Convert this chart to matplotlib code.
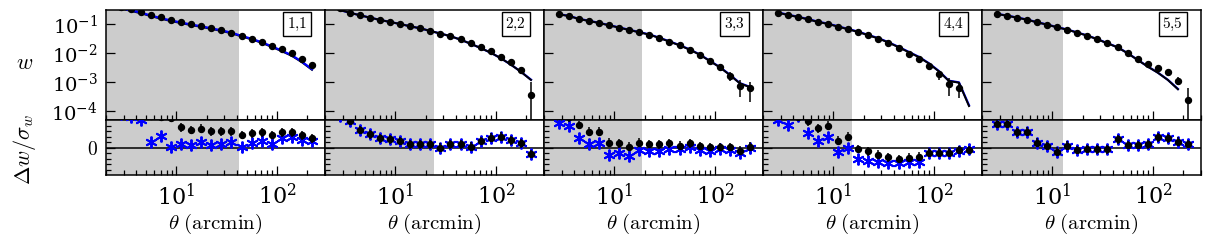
import numpy as np
import matplotlib
matplotlib.use("Agg")
import matplotlib.pyplot as plt
from matplotlib.ticker import FixedLocator, NullFormatter, LogLocator

plt.rcParams['mathtext.fontset'] = 'cm'
plt.rcParams['font.family'] = 'serif'
plt.rcParams['font.serif'] = ['DejaVu Serif']

# ---- data -------------------------------------------------------------
theta = 2.5 * 10 ** (0.05 + 0.1 * np.arange(20))   # bin centres (arcmin)
panel_labels = ["1,1", "2,2", "3,3", "4,4", "5,5"]
scale_cut = [41.6, 24.0, 18.8, 15.5, 12.9]          # shaded small-scale cut (arcmin)

# log10 w of measured points
logw_data = [
    [-0.40, -0.48, -0.575, -0.690, -0.769, -0.862, -0.931, -1.000, -1.069, -1.138,
     -1.207, -1.299, -1.414, -1.506, -1.621, -1.747, -1.874, -2.011, -2.195, -2.414],
    [-0.45, -0.609, -0.701, -0.782, -0.862, -0.931, -1.000, -1.080, -1.149, -1.241,
     -1.333, -1.414, -1.529, -1.667, -1.805, -1.943, -2.126, -2.322, -2.586, -3.448],
    [-0.667, -0.724, -0.828, -0.897, -0.966, -1.046, -1.126, -1.207, -1.287, -1.368,
     -1.483, -1.609, -1.736, -1.885, -2.057, -2.276, -2.494, -2.782, -3.138, -3.218],
    [-0.632, -0.701, -0.759, -0.839, -0.931, -1.000, -1.092, -1.184, -1.276, -1.391,
     -1.517, -1.667, -1.839, -2.023, -2.218, -2.437, -2.736, -3.080, -3.218, np.nan],
    [-0.655, -0.713, -0.782, -0.851, -0.943, -1.023, -1.115, -1.195, -1.299, -1.402,
     -1.529, -1.667, -1.805, -1.989, -2.195, -2.379, -2.506, -2.667, -2.954, -3.621],
]
# fractional errors sigma_w / w
frac_err = [
    [0.03, 0.03, 0.03, 0.03, 0.03, 0.03, 0.03, 0.03, 0.03, 0.03,
     0.04, 0.04, 0.04, 0.05, 0.05, 0.06, 0.07, 0.08, 0.10, 0.15],
    [0.03, 0.03, 0.03, 0.03, 0.03, 0.03, 0.03, 0.03, 0.03, 0.04,
     0.04, 0.04, 0.05, 0.05, 0.06, 0.07, 0.08, 0.10, 0.12, 1.86],
    [0.03, 0.03, 0.03, 0.03, 0.03, 0.03, 0.04, 0.04, 0.04, 0.05,
     0.05, 0.06, 0.07, 0.08, 0.10, 0.13, 0.20, 0.35, 0.58, 0.65],
    [0.03, 0.03, 0.03, 0.03, 0.03, 0.03, 0.04, 0.04, 0.04, 0.05,
     0.06, 0.07, 0.08, 0.10, 0.12, 0.20, 0.35, 0.60, 0.52, 0.0],
    [0.03, 0.03, 0.03, 0.03, 0.03, 0.03, 0.04, 0.04, 0.04, 0.05,
     0.05, 0.06, 0.07, 0.08, 0.10, 0.12, 0.15, 0.20, 0.30, 1.53],
]
# log10 w of model (black) and alternative model (blue)
logw_model = [
    [-0.46, -0.55, -0.63, -0.73, -0.82, -0.90, -0.97, -1.04, -1.10, -1.17,
     -1.24, -1.32, -1.43, -1.53, -1.65, -1.79, -1.94, -2.10, -2.32, -2.58],
    [-0.52, -0.61, -0.70, -0.78, -0.86, -0.93, -1.00, -1.08, -1.15, -1.24,
     -1.33, -1.42, -1.54, -1.68, -1.83, -1.99, -2.18, -2.40, -2.65, -2.93],
    [-0.667, -0.724, -0.828, -0.897, -0.966, -1.046, -1.126, -1.207, -1.287, -1.368,
     -1.483, -1.609, -1.736, -1.885, -2.057, -2.276, -2.494, -2.760, -3.05, -3.18],
    [-0.61, -0.69, -0.759, -0.839, -0.931, -1.000, -1.092, -1.184, -1.276, -1.391,
     -1.50, -1.64, -1.80, -1.97, -2.14, -2.36, -2.63, -2.966, -3.023, -3.83],
    [-0.655, -0.713, -0.782, -0.851, -0.943, -1.023, -1.115, -1.195, -1.299, -1.402,
     -1.529, -1.667, -1.805, -2.01, -2.24, -2.47, -2.68, -2.93, -3.25, np.nan],
]
logw_alt = [
    [-0.44, -0.53, -0.61, -0.71, -0.80, -0.88, -0.95, -1.02, -1.08, -1.15,
     -1.22, -1.30, -1.41, -1.51, -1.63, -1.77, -1.92, -2.08, -2.30, -2.56],
    [-0.52, -0.61, -0.70, -0.78, -0.86, -0.93, -1.00, -1.08, -1.15, -1.24,
     -1.33, -1.42, -1.54, -1.68, -1.83, -1.99, -2.18, -2.40, -2.645, -2.92],
    [-0.660, -0.720, -0.822, -0.890, -0.960, -1.040, -1.120, -1.200, -1.280, -1.360,
     -1.475, -1.600, -1.728, -1.877, -2.050, -2.268, -2.486, -2.750, -3.04, -3.17],
    [-0.60, -0.68, -0.750, -0.830, -0.922, -0.990, -1.082, -1.174, -1.266, -1.380,
     -1.49, -1.63, -1.79, -1.96, -2.13, -2.35, -2.62, -2.955, -3.013, -3.80],
    [-0.650, -0.708, -0.777, -0.846, -0.938, -1.018, -1.110, -1.190, -1.294, -1.397,
     -1.524, -1.662, -1.800, -2.005, -2.235, -2.465, -2.675, -2.925, -3.24, np.nan],
]
# residuals Delta w / sigma_w : black (model) and blue (alternative)
res_model = [
    [6.5, 6.3, 6.0, 5.8, 5.6, 5.4, 3.7, 3.2, 3.4, 2.97,
     2.97, 2.97, 2.3, 2.6, 2.8, 2.3, 2.8, 2.8, 2.2, 1.7],
    [5.8, 4.9, 3.2, 2.4, 1.7, 1.5, 1.2, 0.6, 0.6, 0.6,
     0.0, 0.6, 0.6, 0.2, 1.2, 1.8, 2.0, 1.3, 0.8, -1.15],
    [5.8, 5.5, 4.1, 2.9, 2.9, 0.9, 0.8, 0.2, 0.9, 0.67,
     0.6, 0.8, 0.37, 0.8, 0.3, 0.12, 0.12, 0.12, -0.55, 0.2],
    [6.0, 5.8, 5.6, 4.73, 3.52, 4.0, 1.27, 2.0, -0.24, -0.67,
     -1.27, -1.76, -2.06, -1.82, -1.64, -0.91, -0.91, -0.91, -0.42, -0.42],
    [4.3, 4.3, 2.8, 2.9, 0.9, 0.3, -0.73, 0.37, -0.42, -0.24,
     -0.3, -0.3, 1.52, 0.48, 0.48, 0.6, 1.88, 1.7, 1.1, 0.67],
]
res_model_err = [
    [0.8] * 20,
    [0.8] * 20,
    [0.8] * 20,
    [0.8] * 20,
    [0.8] * 20,
]
res_alt = [
    [6.0, 5.6, 5.0, 0.97, 2.1, 0.2, 0.67, 0.55, 0.97, 0.55,
     0.67, 0.97, 0.2, 0.79, 1.15, 0.67, 1.7, 2.0, 1.45, 1.15],
    [5.8, 4.9, 3.2, 2.4, 1.7, 1.5, 1.2, 0.6, 0.6, 0.6,
     0.0, 0.6, 0.6, 0.2, 1.2, 1.8, 2.0, 1.3, 0.8, -1.15],
    [4.4, 3.95, 1.8, 0.6, 0.8, -1.33, -1.03, -1.45, -0.42, -0.55,
     -0.55, -0.24, -0.24, 0.06, -0.42, -0.55, -0.3, -0.42, -0.9, -0.12],
    [5.0, 4.1, 5.8, 2.6, 1.2, 2.0, -0.73, 0.0, -2.06, -2.36,
     -2.67, -2.85, -2.85, -2.67, -2.55, -1.03, -1.03, -1.03, -0.55, -0.3],
    [4.3, 4.3, 2.8, 2.9, 0.9, 0.3, -0.73, 0.37, -0.42, -0.24,
     -0.3, -0.3, 1.52, 0.48, 0.48, 0.6, 1.88, 1.7, 1.1, 0.67],
]

# ---- figure -------------------------------------------------------------
W, H = 1211, 240
fig = plt.figure(figsize=(W / 100, H / 100), dpi=100)

xlim = (2.0, 300.0)
ylim_top = (10 ** -4.31, 10 ** -0.5)
ylim_res = (-5, 5)
shade = '#cccccc'
fs = 14

lefts = [106, 325, 544, 763, 982]
pw = 219
blue_on_top = [True, False, False, False, False]

for i in range(5):
    l = lefts[i] / W
    axt = fig.add_axes([l, (H - 120) / H, pw / W, 110.5 / H])
    axr = fig.add_axes([l, (H - 175.3) / H, pw / W, 55.3 / H])

    w = 10 ** np.array(logw_data[i])
    err = np.array(frac_err[i]) * w
    lower = np.minimum(err, w * 0.99999)
    wm = 10 ** np.array(logw_model[i])
    wa = 10 ** np.array(logw_alt[i])

    for ax in (axt, axr):
        ax.set_xscale('log')
        ax.set_xlim(*xlim)
        ax.axvspan(xlim[0], scale_cut[i], color=shade, lw=0, zorder=0)
        ax.tick_params(which='both', direction='in', top=False, right=False,
                       width=0.9)
        ax.tick_params(which='major', length=6.5)
        ax.tick_params(which='minor', length=3.5)
        for s in ax.spines.values():
            s.set_linewidth(1.1)
        ax.xaxis.set_major_locator(LogLocator(base=10, numticks=10))
        ax.xaxis.set_minor_locator(LogLocator(base=10, subs=np.arange(2, 10), numticks=10))

    # top panel
    axt.set_yscale('log')
    axt.set_ylim(*ylim_top)
    axt.plot(theta, wa, color='blue', lw=1.6, zorder=3.5 if blue_on_top[i] else 2)
    axt.plot(theta, wm, color='black', lw=1.4, zorder=3)
    axt.errorbar(theta, w, yerr=[lower, err], fmt='o', color='black', ms=4.3,
                 elinewidth=1.1, capsize=0, zorder=4)
    axt.yaxis.set_major_locator(FixedLocator([1e-4, 1e-3, 1e-2, 1e-1]))
    axt.yaxis.set_minor_locator(FixedLocator([]))
    axt.xaxis.set_major_formatter(NullFormatter())
    axt.xaxis.set_minor_formatter(NullFormatter())
    axt.text(0.871, 0.869, r'$\mathrm{' + panel_labels[i].replace(',', '{,}') + '}$',
             transform=axt.transAxes, ha='center', va='center', fontsize=11,
             bbox=dict(boxstyle='square,pad=0.25', fc='white', ec='black', lw=1.0),
             zorder=6)

    # residual panel
    axr.set_ylim(*ylim_res)
    axr.axhline(0, color='black', lw=1.1, zorder=1)
    axr.plot(theta, res_alt[i], ls='none', marker=(6, 2, 0), ms=8.5, mew=1.4,
             color='blue', zorder=3)
    axr.errorbar(theta, res_model[i], yerr=res_model_err[i], fmt='o', color='black',
                 ms=4.3, elinewidth=1.1, capsize=0, zorder=4)
    axr.yaxis.set_major_locator(FixedLocator([0]))
    axr.yaxis.set_minor_locator(FixedLocator([-4, -3, -2, -1, 1, 2, 3, 4]))
    axr.set_xlabel(r'$\theta\ \mathrm{(arcmin)}$', fontsize=15, labelpad=1)
    axr.tick_params(axis='x', labelsize=16, pad=6)

    if i == 0:
        axt.tick_params(axis='y', labelsize=fs, pad=6)
        axr.set_yticklabels([r'$0$'], fontsize=fs)
        axr.tick_params(axis='y', pad=6)
    else:
        axt.set_yticklabels([])
        axr.set_yticklabels([])

fig.text(25 / W, 1 - 63 / H, r'$w$', fontsize=fs + 2, ha='center', va='center')
fig.text(25 / W, 1 - 150 / H, r'$\Delta w/\sigma_w$', fontsize=fs + 2,
         ha='center', va='center', rotation=90)

fig.savefig('out.png', dpi=100)
